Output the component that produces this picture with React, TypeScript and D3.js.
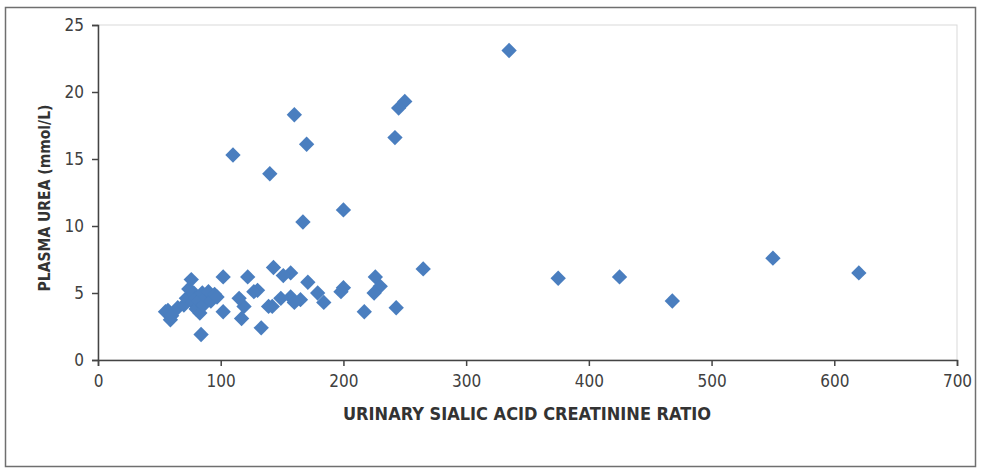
import React, { useEffect, useRef } from "react";
import * as d3 from "d3";

// urinary sialic acid / creatinine ratio vs plasma urea (mmol/L)
const ratio = [
  335, 250, 245, 160, 242, 170, 110, 140, 200, 167,
  265, 375, 425, 468, 550, 620,
  243, 217, 226, 230, 225, 200, 198, 184, 179, 171,
  165, 157, 157, 160, 151, 143, 149, 142, 139, 133,
  130, 127, 122, 119, 117, 115, 102, 102,
  84, 55, 59, 57, 60, 65, 70, 72, 74, 76,
  77, 78, 80, 80, 82, 83, 85, 86, 88, 90, 92, 95, 97,
];
const urea = [
  23.1, 19.3, 18.8, 18.3, 16.6, 16.1, 15.3, 13.9, 11.2, 10.3,
  6.8, 6.1, 6.2, 4.4, 7.6, 6.5,
  3.9, 3.6, 6.2, 5.5, 5.0, 5.4, 5.1, 4.3, 5.0, 5.8,
  4.5, 6.5, 4.7, 4.3, 6.3, 6.9, 4.6, 4.0, 4.0, 2.4,
  5.2, 5.1, 6.2, 4.0, 3.1, 4.6, 6.2, 3.6,
  1.9, 3.6, 3.0, 3.7, 3.3, 3.9, 4.1, 4.6, 5.3, 6.0,
  4.3, 5.0, 4.6, 3.8, 4.4, 3.5, 5.0, 4.1, 4.7, 5.1, 4.4, 4.9, 4.7,
];
const xTicks = [0, 100, 200, 300, 400, 500, 600, 700];
const yTicks = [0, 5, 10, 15, 20, 25];

const W = 985;
const H = 470;
const left = 98;
const right = 957;
const top = 25;
const bottom = 360;
const font = "'Liberation Sans Narrow', 'DejaVu Sans Condensed', sans-serif";

const App = () => {
  const ref = useRef<SVGSVGElement>(null);

  useEffect(() => {
    const svg = d3.select(ref.current);
    svg.selectAll("*").remove();

    const x = d3.scaleLinear().domain([0, 700]).range([left, right]);
    const y = d3.scaleLinear().domain([0, 25]).range([bottom, top]);

    // outer frame
    svg.append("rect")
      .attr("x", 5.5).attr("y", 7.5)
      .attr("width", 970).attr("height", 459)
      .attr("fill", "#fff")
      .attr("stroke", "#6f6f6f")
      .attr("stroke-width", 1.5);

    // plot area border (light)
    svg.append("rect")
      .attr("x", left).attr("y", top)
      .attr("width", right - left).attr("height", bottom - top)
      .attr("fill", "none")
      .attr("stroke", "#d9d9d9");

    const xAxis = svg.append("g")
      .attr("transform", `translate(0,${bottom})`)
      .call(d3.axisBottom(x).tickValues(xTicks).tickSize(6).tickPadding(9));
    const yAxis = svg.append("g")
      .attr("transform", `translate(${left},0)`)
      .call(d3.axisLeft(y).tickValues(yTicks).tickSize(6).tickPadding(8));

    [xAxis, yAxis].forEach(g => {
      g.select(".domain").attr("stroke", "#444").attr("stroke-width", 1.5);
      g.selectAll(".tick line").attr("stroke", "#444").attr("stroke-width", 1.5);
      g.selectAll("text")
        .attr("fill", "#404040")
        .style("font-family", font)
        .style("font-size", "17px");
    });

    // points as diamonds
    const diamond = d3.symbol().type(d3.symbolDiamond2).size(150);
    svg.append("g")
      .selectAll("path")
      .data(ratio.map((r, i) => [r, urea[i]]))
      .enter()
      .append("path")
      .attr("d", diamond)
      .attr("transform", d => `translate(${x(d[0])},${y(d[1])})`)
      .attr("fill", "#4a7ebf");

    svg.append("text")
      .attr("x", 527).attr("y", 420)
      .attr("text-anchor", "middle")
      .style("font-family", font)
      .style("font-size", "18px")
      .style("font-weight", "bold")
      .attr("fill", "#333")
      .text("URINARY SIALIC ACID CREATININE RATIO");

    svg.append("text")
      .attr("transform", `translate(50,198) rotate(-90)`)
      .attr("text-anchor", "middle")
      .style("font-family", font)
      .style("font-size", "15.5px")
      .style("font-weight", "bold")
      .attr("fill", "#333")
      .text("PLASMA UREA (mmol/L)");
  }, []);

  return <svg ref={ref} width={W} height={H} style={{ position: "absolute", left: 0, top: 0 }} />;
};

export default App;
